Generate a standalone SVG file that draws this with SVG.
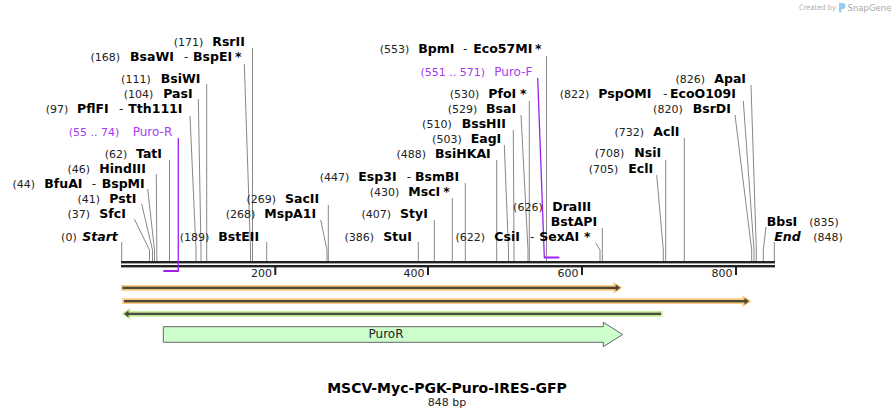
<svg xmlns="http://www.w3.org/2000/svg" width="896" height="419" viewBox="0 0 896 419">
<style>
text{font-family:"DejaVu Sans","Liberation Sans",sans-serif}
.num{font-size:11px;fill:#222}
.nm{font-size:12.5px;font-weight:bold;fill:#000}
.it{font-style:italic}
.dash{font-size:12px;fill:#222}
.pr{font-size:11px;fill:#a63cf0}
.prn{font-size:12px;fill:#a63cf0}
.e{text-anchor:end}
.lk{stroke:#888;stroke-width:1;fill:none}
.pl{stroke:#9b22ee;stroke-width:1.3;fill:none}
.tick{font-size:11px;fill:#222;text-anchor:end}
</style>
<rect width="896" height="419" fill="#fff"/>
<g id="credit">
<text x="799" y="10" textLength="37" lengthAdjust="spacingAndGlyphs" style="font-size:7.5px;fill:#b0b0b0">Created by</text>
<path d="M839 3 h3.5 a3 3 0 0 1 0 6 h-1.2 v3.5 h-2.3 z" fill="#8ecff2"/>
<text x="847.5" y="11" textLength="44" lengthAdjust="spacingAndGlyphs" style="font-size:9.5px;fill:#a8a8a8">SnapGene</text>
</g>
<g id="connectors">
<path class="lk" d="M121.7 242V261"/>
<path class="lk" d="M134.3 219L149.5 250V261"/>
<path class="lk" d="M141.7 204L152.5 250V261"/>
<path class="lk" d="M147.7 189L154.5 250V261"/>
<path class="lk" d="M156.3 174L156.8 250V261"/>
<path class="lk" d="M169.5 160V261"/>
<path class="lk" d="M190 116L196 250V261"/>
<path class="lk" d="M198.3 99L201 250V261"/>
<path class="lk" d="M206.7 84V261"/>
<path class="lk" d="M244.3 64L250.5 250V261"/>
<path class="lk" d="M252.5 48V261"/>
<path class="lk" d="M266.7 242V261"/>
<path class="lk" d="M320.7 220L327 250V261"/>
<path class="lk" d="M328.3 205V261"/>
<path class="lk" d="M418.3 242V261"/>
<path class="lk" d="M434.3 220V261"/>
<path class="lk" d="M452.3 198V261"/>
<path class="lk" d="M465.3 183V261"/>
<path class="lk" d="M496.7 160V261"/>
<path class="lk" d="M504.3 145L508.5 250V261"/>
<path class="lk" d="M513.3 130L514 250V261"/>
<path class="lk" d="M521 115L528 250V261"/>
<path class="lk" d="M529.3 101V261"/>
<path class="lk" d="M546.5 56V261"/>
<path class="lk" d="M595.7 243L600 250V261"/>
<path class="lk" d="M602.3 228V261"/>
<path class="lk" d="M656.7 175L663.3 250V261"/>
<path class="lk" d="M665.7 160V261"/>
<path class="lk" d="M684.3 138V261"/>
<path class="lk" d="M735 115L751.7 250V261"/>
<path class="lk" d="M743.3 101L754 250V261"/>
<path class="lk" d="M751 85L756.3 250V261"/>
<path class="lk" d="M766 227L763.3 250V261"/>
<path class="lk" d="M774.3 242V261"/>
</g>
<g id="backbone">
<rect x="121" y="261" width="654" height="2.4" fill="#222"/>
<rect x="121" y="265" width="654" height="2.4" fill="#222"/>
<rect x="274.3" y="267" width="2" height="8" fill="#222"/>
<rect x="427" y="267" width="2" height="8" fill="#222"/>
<rect x="581" y="267" width="2" height="8" fill="#222"/>
<rect x="735" y="267" width="2" height="8" fill="#222"/>
<text class="tick" x="272" y="277">200</text>
<text class="tick" x="424.5" y="277">400</text>
<text class="tick" x="578.5" y="277">600</text>
<text class="tick" x="732.5" y="277">800</text>
</g>
<g id="primer-puro-r">
<path class="pl" d="M178.3 138V271.5"/>
<rect x="163.3" y="270" width="15.5" height="2" fill="#9b22ee"/>
<text class="pr e" x="119.3" y="136">(55 .. 74)</text>
<text class="prn" x="132.7" y="136">Puro-R</text>
</g>
<g id="primer-puro-f">
<path class="pl" d="M537.7 78L544.3 257"/>
<rect x="543.8" y="256.5" width="15.5" height="2" fill="#9b22ee"/>
<text class="pr e" x="485" y="76">(551 .. 571)</text>
<text class="prn" x="494.3" y="76">Puro-F</text>
</g>
<g id="site-start"><text class="num e" x="76.7" y="241">(0)</text><text class="nm it" x="82.3" y="241">Start</text></g>
<g id="site-sfci"><text class="num e" x="90" y="218.3">(37)</text><text class="nm" x="99.3" y="218.3">SfcI</text></g>
<g id="site-psti"><text class="num e" x="100" y="203.3">(41)</text><text class="nm" x="109.3" y="203.3">PstI</text></g>
<g id="site-bfuai"><text class="num e" x="35" y="188.3">(44)</text><text class="nm" x="44.3" y="188.3">BfuAI</text><text class="dash" x="91.7" y="188.3">-</text><text class="nm" x="101.7" y="188.3">BspMI</text></g>
<g id="site-hindiii"><text class="num e" x="90" y="173.3">(46)</text><text class="nm" x="99.3" y="173.3">HindIII</text></g>
<g id="site-tati"><text class="num e" x="127.3" y="158.3">(62)</text><text class="nm" x="136" y="158.3">TatI</text></g>
<g id="site-pflfi"><text class="num e" x="68.3" y="112.7">(97)</text><text class="nm" x="77" y="112.7">PflFI</text><text class="dash" x="119" y="112.7">-</text><text class="nm" x="128.3" y="112.7">Tth111I</text></g>
<g id="site-pasi"><text class="num e" x="153.3" y="97.7">(104)</text><text class="nm" x="163.3" y="97.7">PasI</text></g>
<g id="site-bsiwi"><text class="num e" x="150.7" y="83.3">(111)</text><text class="nm" x="160.7" y="83.3">BsiWI</text></g>
<g id="site-bsawi"><text class="num e" x="120" y="61">(168)</text><text class="nm" x="130" y="61">BsaWI</text><text class="dash" x="184" y="61">-</text><text class="nm" x="193" y="61">BspEI</text><text class="nm" x="235" y="61">*</text></g>
<g id="site-rsrii"><text class="num e" x="203.3" y="46">(171)</text><text class="nm" x="212.3" y="46">RsrII</text></g>
<g id="site-bsteii"><text class="num e" x="209.3" y="241">(189)</text><text class="nm" x="218.3" y="241">BstEII</text></g>
<g id="site-mspa1i"><text class="num e" x="255.3" y="218.3">(268)</text><text class="nm" x="264.3" y="218.3">MspA1I</text></g>
<g id="site-sacii"><text class="num e" x="276" y="203.3">(269)</text><text class="nm" x="285" y="203.3">SacII</text></g>
<g id="site-stui"><text class="num e" x="374" y="241">(386)</text><text class="nm" x="383.3" y="241">StuI</text></g>
<g id="site-styi"><text class="num e" x="391" y="218.3">(407)</text><text class="nm" x="400" y="218.3">StyI</text></g>
<g id="site-msci"><text class="num e" x="399.3" y="196">(430)</text><text class="nm" x="408.3" y="196">MscI</text><text class="nm" x="443.3" y="196">*</text></g>
<g id="site-esp3i"><text class="num e" x="349.3" y="181">(447)</text><text class="nm" x="358.3" y="181">Esp3I</text><text class="dash" x="406.7" y="181">-</text><text class="nm" x="415" y="181">BsmBI</text></g>
<g id="site-bsihkai"><text class="num e" x="426" y="158.3">(488)</text><text class="nm" x="435" y="158.3">BsiHKAI</text></g>
<g id="site-eagi"><text class="num e" x="461.7" y="143">(503)</text><text class="nm" x="470.7" y="143">EagI</text></g>
<g id="site-bsshii"><text class="num e" x="451.7" y="128">(510)</text><text class="nm" x="461.7" y="128">BssHII</text></g>
<g id="site-bsai"><text class="num e" x="477.3" y="113">(529)</text><text class="nm" x="486" y="113">BsaI</text></g>
<g id="site-pfoi"><text class="num e" x="479.3" y="98">(530)</text><text class="nm" x="488.3" y="98">PfoI</text><text class="nm" x="520" y="98">*</text></g>
<g id="site-bpmi"><text class="num e" x="409.3" y="52.7">(553)</text><text class="nm" x="418.3" y="52.7">BpmI</text><text class="dash" x="463" y="52.7">-</text><text class="nm" x="473.3" y="52.7">Eco57MI</text><text class="nm" x="535" y="52.7">*</text></g>
<g id="site-csii"><text class="num e" x="485" y="241">(622)</text><text class="nm" x="494.3" y="241">CsiI</text><text class="dash" x="530" y="241">-</text><text class="nm" x="539.3" y="241">SexAI</text><text class="nm" x="584" y="241">*</text></g>
<g id="site-draiii"><text class="num e" x="542.7" y="211">(626)</text><text class="nm" x="552.3" y="211">DraIII</text><text class="nm" x="550.7" y="226">BstAPI</text></g>
<g id="site-ecli"><text class="num e" x="618.3" y="172.7">(705)</text><text class="nm" x="628.3" y="172.7">EclI</text></g>
<g id="site-nsii"><text class="num e" x="624.3" y="157.3">(708)</text><text class="nm" x="634.3" y="157.3">NsiI</text></g>
<g id="site-acli"><text class="num e" x="644" y="136">(732)</text><text class="nm" x="653.3" y="136">AclI</text></g>
<g id="site-bsrdi"><text class="num e" x="682.7" y="113.3">(820)</text><text class="nm" x="692.7" y="113.3">BsrDI</text></g>
<g id="site-pspomi"><text class="num e" x="589.3" y="98.3">(822)</text><text class="nm" x="598.3" y="98.3">PspOMI</text><text class="dash" x="663" y="98.3">-</text><text class="nm" x="670" y="98.3">EcoO109I</text></g>
<g id="site-apai"><text class="num e" x="705" y="83.3">(826)</text><text class="nm" x="714.3" y="83.3">ApaI</text></g>
<g id="site-bbsi"><text class="nm" x="766.7" y="225.7">BbsI</text><text class="num" x="809.3" y="225.7">(835)</text></g>
<g id="site-end"><text class="nm it" x="774.3" y="240.7">End</text><text class="num" x="813.3" y="240.7">(848)</text></g>
<g id="feature-orange-1">
<polygon points="121,285 613.3,285 613.3,282 622.7,287.8 613.3,293.6 613.3,290.7 121,290.7" fill="#fdcb7c"/>
<rect x="122.5" y="286.7" width="494" height="2.4" fill="#4d473b"/>
<polygon points="615.7,284.3 620.3,287.8 615.7,291.3" fill="#4d473b"/>
</g>
<g id="feature-orange-2">
<polygon points="122.3,298.3 742.3,298.3 742.3,295.5 751.7,301.2 742.3,307 742.3,304 122.3,304" fill="#fdcb7c"/>
<rect x="124" y="300" width="621" height="2.4" fill="#4d473b"/>
<polygon points="744.5,297.7 749,301.2 744.5,304.7" fill="#4d473b"/>
</g>
<g id="feature-green">
<polygon points="662.7,311 130.5,311 130.5,308 121,313.8 130.5,319.6 130.5,316.7 662.7,316.7" fill="#c4f39a"/>
<rect x="127.5" y="312.7" width="533.5" height="2.4" fill="#4d4a3f"/>
<polygon points="128.5,310.3 124,313.9 128.5,317.5" fill="#4d4a3f"/>
</g>
<g id="feature-puror">
<polygon points="163.3,326.7 603.3,326.7 603.3,322.3 622.7,334.5 603.3,346.7 603.3,342.3 163.3,342.3" fill="#ccffcc" stroke="#666" stroke-width="1"/>
<text x="386" y="337.7" style="font-size:12px;fill:#222;text-anchor:middle">PuroR</text>
</g>
<g id="title">
<text x="447" y="392.7" style="font-size:14px;font-weight:bold;fill:#000;text-anchor:middle">MSCV-Myc-PGK-Puro-IRES-GFP</text>
<text x="447" y="406" style="font-size:11px;fill:#222;text-anchor:middle">848 bp</text>
</g>
</svg>
